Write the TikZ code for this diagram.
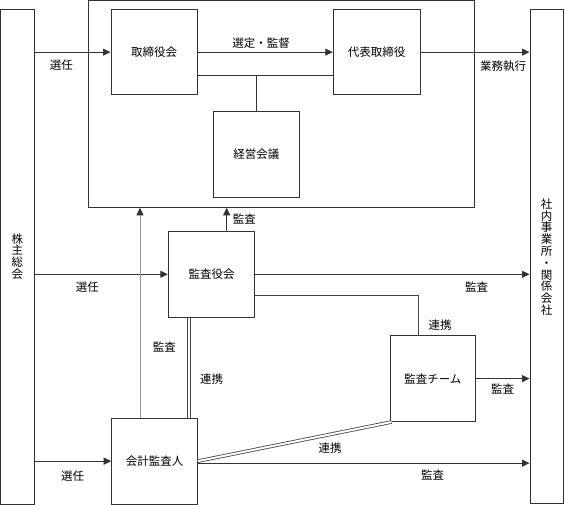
\documentclass[tikz,border=0pt]{standalone}
\usepackage{fontspec}
\setmainfont{Noto Sans CJK JP}
\usetikzlibrary{arrows.meta,calc}
\definecolor{ln}{HTML}{333333}
\definecolor{gl}{HTML}{999999}
\definecolor{dl}{HTML}{444444}
\tikzset{
  box/.style={draw=ln,line width=1pt,fill=white,inner sep=0pt,font=\fontsize{11.5}{13}\selectfont},
  arr/.style={draw=ln,line width=1pt,-{Triangle[length=7.5pt,width=7pt,color=ln]}},
  plain/.style={draw=ln,line width=1pt},
  dbl/.style={draw=dl,line width=0.8pt,double=white,double distance=2pt},
  lbl/.style={inner sep=0pt,font=\fontsize{11.5}{13}\selectfont},
  vtxt/.style={inner sep=0pt,align=center,font=\fontsize{11.5}{11.8}\selectfont},
}
\begin{document}
\begin{tikzpicture}[x=1pt,y=-1pt]
\useasboundingbox (0,0) rectangle (565,505);
% outer box
\node[box,minimum width=386.2pt,minimum height=206.8pt,fill=none] (big) at (281.4,103.9) {};
% side bars
\node[box,minimum width=33.8pt,minimum height=495pt] (sh) at (17.4,257) {};
\node[vtxt] (shtxt) at (17.4,256.5) {株\\主\\総\\会};
\node[box,minimum width=33.7pt,minimum height=494.2pt] (rb) at (546.85,256.4) {};
\node[vtxt] (rbtxt) at (546.7,257) {社\\内\\事\\業\\所\\・\\関\\係\\会\\社};
% boxes
\node[box,minimum width=86.3pt,minimum height=85.7pt] (tb) at (154.15,52.15) {取締役会};
\node[box,minimum width=86.7pt,minimum height=85.7pt] (rep) at (376.65,52.15) {代表取締役};
\node[box,minimum width=86.2pt,minimum height=86pt] (kei) at (256.4,154.3) {経営会議};
\node[box,minimum width=86.4pt,minimum height=86pt] (kan) at (211.5,274.3) {監査役会};
\node[box,minimum width=85.7pt,minimum height=85.8pt] (team) at (432.85,378.6) {監査チーム};
\node[box,minimum width=85.6pt,minimum height=85.7pt] (acc) at (154.5,461.15) {会計監査人};
% helper coordinates
\coordinate (tb2) at ([yshift=-23pt]tb.east);
\coordinate (rep2) at ([yshift=-23pt]rep.west);
\coordinate (kanup) at ([xshift=15.2pt]kan.north);
\coordinate (kan2) at ([yshift=-20pt]kan.east);
\coordinate (tn) at ([xshift=-13.2pt]team.north);
\coordinate (kbot) at ([xshift=-22.5pt]kan.south);
\coordinate (accup) at ([xshift=-14.5pt]acc.north);
\coordinate (acc2) at ([yshift=-2pt]acc.east);
\coordinate (tsw) at ([xshift=2pt]team.south west);
% connectors
\draw[arr] (sh.east |- tb.west) -- (tb.west);
\draw[arr] (tb.east) -- (rep.west);
\draw[plain] (tb2) -- (rep2);
\coordinate (j1) at (tb2 -| kei.north);
\draw[plain] (j1) -- (kei.north);
\draw[arr] (rep.east) -- (rep.east -| rb.west);
\draw[arr] (kanup) -- (kanup |- big.south);
\draw[arr] (sh.east |- kan.west) -- (kan.west);
\draw[arr] (kan.east) -- (kan.east -| rb.west);
\coordinate (c1) at (kan2 -| tn);
\draw[dbl] (kan2) -- (c1) -- (tn);
\draw[dbl] (kbot) -- (kbot |- acc.north);
\draw[arr,draw=gl] (accup) -- (accup |- big.south);
\draw[arr] (sh.east |- acc.west) -- (acc.west);
\draw[dbl] (acc.east) -- (tsw);
\draw[arr] (acc2) -- (acc2 -| rb.west);
\draw[arr] (team.east) -- (team.east -| rb.west);
% labels
\node[lbl] (l1) at (61.3,65.5) {選任};
\node[lbl] (l2) at (261,43) {選定・監督};
\node[lbl] (l3) at (503,66) {業務執行};
\node[lbl] (l4) at (244.3,219) {監査};
\node[lbl] (l5) at (87.3,286.7) {選任};
\node[lbl] (l6) at (476.7,286.7) {監査};
\node[lbl] (l7) at (440,325) {連携};
\node[lbl] (l8) at (164.3,347.3) {監査};
\node[lbl] (l9) at (211.7,379.3) {連携};
\node[lbl] (l10) at (502.7,389.3) {監査};
\node[lbl] (l11) at (330,447.7) {連携};
\node[lbl] (l12) at (432.7,475.5) {監査};
\node[lbl] (l13) at (72.5,475.7) {選任};
\end{tikzpicture}
\end{document}
